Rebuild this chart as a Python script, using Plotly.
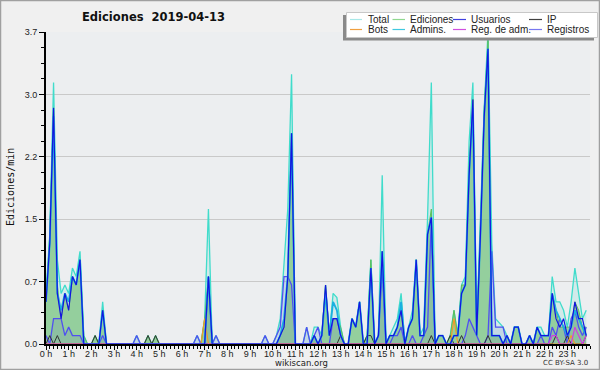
import plotly.graph_objects as go

# ---- data: 10-minute bins, values in edits/min (rows = hours 0..23) ----
total = [
    0.6, 1.3, 3.1, 1.0, 0.6, 0.7,
    0.6, 0.9, 0.8, 1.1, 0.1, 0.0,
    0.0, 0.1, 0.0, 0.5, 0.0, 0.0,
    0, 0, 0, 0, 0, 0,
    0.1, 0, 0, 0.1, 0, 0.1,
    0, 0, 0, 0, 0, 0,
    0, 0, 0, 0, 0.1, 0,
    0.3, 1.6, 0, 0.1, 0, 0,
    0, 0, 0, 0, 0, 0,
    0, 0, 0, 0, 0.1, 0,
    0, 0.1, 0.3, 1.0, 1.6, 3.2,
    0, 0, 0, 0.2, 0, 0.2,
    0.2, 0.1, 0.7, 0.1, 0.6, 0.55,
    0.2, 0, 0, 0.3, 0.2, 0.5,
    0, 0.1, 1.0, 0, 0.1, 2.0,
    0, 0.1, 0.2, 0.3, 0.6, 0,
    0.2, 0.4, 1.0, 0.1, 0.2, 1.5,
    3.1, 0, 0.1, 0.1, 0, 0.1,
    0.4, 0.1, 0.7, 0.8, 2.4, 3.1,
    0.2, 1.4, 2.8, 3.7, 1.2, 0.3,
    0.25, 0.2, 0.1, 0, 0.2, 0.2,
    0, 0, 0.1, 0, 0.2, 0.2,
    0.1, 0.1, 0.8, 0.5, 0.5, 0.4,
    0.2, 0.5, 0.9, 0.6, 0.3, 0.4,
]
ediciones = [
    0.5, 1.3, 2.8, 0.7, 0.3, 0.6,
    0.4, 0.8, 0.7, 1.0, 0.1, 0,
    0, 0.1, 0, 0.4, 0, 0,
    0, 0, 0, 0, 0, 0,
    0, 0, 0, 0.1, 0, 0.1,
    0, 0, 0, 0, 0, 0,
    0, 0, 0, 0, 0, 0,
    0.3, 0.8, 0, 0, 0, 0,
    0, 0, 0, 0, 0, 0,
    0, 0, 0, 0, 0, 0,
    0, 0, 0.1, 0.2, 0.8, 2.5,
    0, 0, 0, 0, 0, 0.1,
    0, 0.1, 0.7, 0.1, 0.3, 0.3,
    0.2, 0, 0, 0.3, 0.2, 0.5,
    0, 0.1, 1.0, 0, 0.1, 1.1,
    0, 0.1, 0.1, 0.2, 0.4, 0,
    0.2, 0.3, 1.0, 0.1, 0.1, 1.3,
    1.6, 0, 0.1, 0.1, 0, 0.1,
    0.4, 0.1, 0.7, 0.7, 2.1, 2.9,
    0.1, 1.4, 2.8, 3.6, 0.1, 0.1,
    0.1, 0, 0.1, 0, 0.2, 0.2,
    0, 0, 0.1, 0, 0.2, 0.1,
    0.1, 0.1, 0.6, 0.4, 0.2, 0.2,
    0.2, 0.2, 0.5, 0.4, 0.2, 0.2,
]
usuarios = [
    0.5, 1.2, 2.8, 0.6, 0.3, 0.6,
    0.4, 0.8, 0.7, 1.0, 0, 0,
    0, 0, 0, 0.4, 0, 0,
    0, 0, 0, 0, 0, 0,
    0, 0, 0, 0, 0, 0,
    0, 0, 0, 0, 0, 0,
    0, 0, 0, 0, 0, 0,
    0, 0.8, 0, 0, 0, 0,
    0, 0, 0, 0, 0, 0,
    0, 0, 0, 0, 0, 0,
    0, 0, 0.1, 0.2, 0.8, 2.5,
    0, 0, 0, 0, 0, 0.1,
    0, 0.1, 0.7, 0.1, 0.3, 0.3,
    0.1, 0, 0, 0.3, 0.2, 0.5,
    0, 0, 0.9, 0, 0.1, 1.1,
    0, 0.1, 0.1, 0.2, 0.4, 0,
    0.2, 0.3, 1.0, 0.1, 0.1, 1.3,
    1.5, 0, 0.1, 0.1, 0, 0,
    0.1, 0.1, 0.6, 0.7, 2.0, 2.9,
    0.1, 1.3, 2.7, 3.5, 0.1, 0.1,
    0.1, 0, 0.1, 0, 0.2, 0.2,
    0, 0, 0.1, 0, 0.2, 0.1,
    0.1, 0.1, 0.6, 0.3, 0.2, 0.3,
    0.1, 0.2, 0.5, 0.3, 0.3, 0.1,
]
ip = [
    0, 0.1, 0, 0.1, 0, 0,
    0, 0, 0, 0, 0, 0,
    0, 0.1, 0, 0, 0, 0,
    0, 0, 0, 0, 0, 0,
    0, 0, 0, 0.1, 0, 0.1,
    0, 0, 0, 0, 0, 0,
    0, 0, 0, 0, 0, 0,
    0, 0, 0, 0, 0, 0,
    0, 0, 0, 0, 0, 0,
    0, 0, 0, 0, 0, 0,
    0, 0, 0, 0, 0, 0,
    0, 0, 0, 0, 0, 0,
    0, 0, 0, 0, 0, 0,
    0.1, 0, 0, 0, 0, 0,
    0, 0.1, 0.1, 0, 0, 0,
    0, 0, 0, 0, 0, 0,
    0, 0, 0, 0, 0, 0,
    0.1, 0, 0, 0, 0, 0.1,
    0, 0, 0.1, 0, 0, 0,
    0, 0, 0, 0.1, 0, 0,
    0, 0, 0, 0, 0, 0,
    0, 0, 0, 0, 0, 0,
    0, 0, 0, 0.1, 0, 0,
    0.1, 0, 0, 0, 0, 0.1,
]
bots = [
    0, 0, 0, 0, 0, 0,
    0, 0, 0, 0, 0, 0,
    0, 0, 0, 0, 0, 0,
    0, 0, 0, 0, 0, 0,
    0, 0, 0, 0, 0, 0,
    0, 0, 0, 0, 0, 0,
    0, 0, 0, 0, 0, 0,
    0.3, 0, 0, 0, 0, 0,
    0, 0, 0, 0, 0, 0,
    0, 0, 0, 0, 0, 0,
    0, 0, 0, 0, 0, 0,
    0, 0, 0, 0, 0, 0,
    0, 0, 0, 0, 0, 0,
    0, 0, 0, 0, 0, 0,
    0, 0, 0, 0, 0, 0,
    0, 0, 0, 0, 0, 0,
    0, 0, 0, 0, 0, 0,
    0, 0, 0, 0, 0, 0,
    0.3, 0, 0, 0, 0, 0,
    0, 0, 0, 0, 0, 0,
    0, 0, 0, 0, 0, 0,
    0, 0, 0, 0, 0, 0,
    0, 0, 0, 0, 0, 0,
    0, 0.1, 0, 0, 0, 0,
]
admins = [
    0.5, 1.2, 2.7, 0.6, 0.4, 0.6,
    0.5, 0.8, 0.7, 1.0, 0, 0,
    0, 0, 0, 0.4, 0, 0,
    0, 0, 0, 0, 0, 0,
    0, 0, 0, 0, 0, 0,
    0, 0, 0, 0, 0, 0,
    0, 0, 0, 0, 0, 0,
    0, 0.8, 0, 0, 0, 0,
    0, 0, 0, 0, 0, 0,
    0, 0, 0, 0, 0, 0,
    0, 0, 0.1, 0.3, 0.8, 2.5,
    0, 0, 0, 0, 0, 0.1,
    0, 0.1, 0.6, 0.1, 0.5, 0.4,
    0.1, 0, 0, 0.3, 0.2, 0.5,
    0, 0, 0.9, 0, 0.1, 1.1,
    0, 0.1, 0.1, 0.2, 0.5, 0,
    0.2, 0.3, 1.0, 0.1, 0.1, 1.3,
    1.5, 0, 0.1, 0.1, 0, 0,
    0.1, 0.1, 0.6, 0.7, 2.0, 2.8,
    0.1, 1.3, 2.7, 3.5, 0.1, 0.1,
    0.1, 0, 0.1, 0, 0.2, 0.2,
    0, 0, 0.1, 0, 0.2, 0.1,
    0.1, 0.1, 0.6, 0.4, 0.3, 0.2,
    0.1, 0.2, 0.4, 0.3, 0.2, 0.1,
]
reg_adm = [
    0, 0, 0, 0, 0, 0,
    0, 0, 0, 0, 0, 0,
    0, 0, 0, 0, 0, 0,
    0, 0, 0, 0, 0, 0,
    0, 0, 0, 0, 0, 0,
    0, 0, 0, 0, 0, 0,
    0, 0, 0, 0, 0, 0,
    0, 0, 0, 0, 0, 0,
    0, 0, 0, 0, 0, 0,
    0, 0, 0, 0, 0, 0,
    0, 0, 0, 0, 0, 0,
    0, 0, 0, 0, 0, 0,
    0, 0, 0, 0, 0, 0,
    0, 0, 0, 0, 0, 0,
    0, 0, 0, 0, 0, 0,
    0, 0, 0, 0, 0, 0,
    0, 0, 0, 0, 0, 0,
    0, 0, 0, 0, 0, 0,
    0, 0, 0, 0, 0, 0,
    0, 0, 0, 0, 0, 0,
    0, 0, 0, 0, 0, 0,
    0, 0, 0, 0, 0, 0,
    0, 0, 0.1, 0.1, 0, 0,
    0, 0, 0.2, 0.1, 0, 0.1,
]
registros = [
    0.1, 0, 0.3, 0.3, 0.3, 0.1,
    0.2, 0.1, 0.1, 0.1, 0, 0,
    0, 0, 0, 0.1, 0, 0,
    0, 0, 0, 0, 0, 0,
    0.1, 0, 0, 0, 0, 0,
    0, 0, 0, 0, 0, 0,
    0, 0, 0, 0, 0.1, 0,
    0, 0.8, 0, 0.1, 0, 0,
    0, 0, 0, 0, 0, 0,
    0, 0, 0, 0, 0.1, 0,
    0, 0.1, 0.2, 0.8, 0.8, 0.7,
    0, 0, 0, 0.2, 0, 0.1,
    0.2, 0, 0, 0, 0.3, 0.3,
    0.1, 0, 0, 0, 0, 0,
    0, 0, 0, 0, 0.1, 0.9,
    0, 0, 0.1, 0.1, 0.2, 0,
    0, 0.1, 0, 0, 0.1, 0.2,
    1.5, 0, 0, 0, 0, 0,
    0, 0, 0, 0.1, 0.3, 0.2,
    0.1, 0, 0, 0.1, 1.1, 0.2,
    0.2, 0.2, 0, 0, 0, 0,
    0, 0, 0, 0, 0, 0.1,
    0, 0, 0.2, 0.1, 0.3, 0.2,
    0, 0.3, 0.4, 0.2, 0.1, 0.2,
]

minutes = [i * 10 for i in range(len(total))]
hour_ticks = [h * 60 for h in range(24)]
hour_labels = [f"{h} h" for h in range(24)]
y_ticks = [0, 0.74, 1.48, 2.22, 2.96, 3.7]
y_labels = ["0.0", "0.7", "1.5", "2.2", "3.0", "3.7"]

legend_names = ["Total", "Ediciones", "Usuarios", "IP", "Bots", "Admins.", "Reg. de adm.", "Registros"]
legend_colors = ["#a8e8e8", "#90d890", "#4040e0", "#404040", "#f0a040", "#40c8e0", "#d050e0", "#7878f0"]

# ---- layout geometry (pixels) ----
W, H = 600, 370
L, R, T, B = 46, 10, 32, 26
PW, PH = W - L - R, H - T - B


def px(x):
    return (x - L) / PW


def py(y):
    return (H - B - y) / PH


fig = go.Figure()


def add(y, color, width=1.0, fill=None, fillcolor=None):
    fig.add_trace(go.Scatter(
        x=minutes, y=y, mode="lines",
        line=dict(color=color, width=width, shape="linear"),
        fill=fill, fillcolor=fillcolor, showlegend=False, hoverinfo="skip"))


add(total, "#40dccb", 1.3, "tozeroy", "rgba(120,225,215,0.22)")
add(ediciones, "#5cbf5c", 1.0, "tozeroy", "rgba(110,190,110,0.62)")
add(registros, "#5050f0", 1.3, "tozeroy", "rgba(90,90,200,0.12)")
add(ip, "#333333", 1.0)
add(bots, "#f09a28", 1.2)
add(admins, "#1ab0e0", 1.8)
add(reg_adm, "#d040e0", 1.2)
add(usuarios, "#1414e0", 1.2)

shapes = []
annotations = []

# outer frame
shapes.append(dict(type="rect", xref="paper", yref="paper",
                   x0=px(0.5), x1=px(599.5), y0=py(369.5), y1=py(0.5),
                   line=dict(color="#a0a0a0", width=1.5), layer="below"))

# legend box with shadow
shapes.append(dict(type="rect", xref="paper", yref="paper",
                   x0=px(343), x1=px(594), y0=py(40.5), y1=py(15),
                   line=dict(width=0), fillcolor="#8a8a8a", layer="above"))
shapes.append(dict(type="rect", xref="paper", yref="paper",
                   x0=px(346.5), x1=px(597.5), y0=py(37.5), y1=py(12.5),
                   line=dict(color="#c8c8c8", width=1), fillcolor="#ffffff", layer="above"))

col_line = [(350, 362), (392.5, 405), (453, 466), (529, 542)]
col_text = [366, 408, 469, 545]
rows_y = [19.5, 29.5]
for k, (name, col) in enumerate(zip(legend_names, legend_colors)):
    r, c = divmod(k, 4)
    yy = rows_y[r]
    shapes.append(dict(type="line", xref="paper", yref="paper",
                       x0=px(col_line[c][0]), x1=px(col_line[c][1]), y0=py(yy), y1=py(yy),
                       line=dict(color=col, width=1.2), layer="above"))
    annotations.append(dict(text=name, xref="paper", yref="paper",
                            x=px(col_text[c]), y=py(yy), xanchor="left", yanchor="middle",
                            showarrow=False,
                            font=dict(family="Liberation Sans", size=10, color="#222")))

annotations.append(dict(text="<b>Ediciones  2019-04-13</b>", xref="paper", yref="paper",
                        x=px(153), y=py(17), xanchor="center", yanchor="middle", showarrow=False,
                        font=dict(family="DejaVu Sans", size=11.5, color="#111")))
annotations.append(dict(text="Ediciones/min", xref="paper", yref="paper", textangle=-90,
                        x=px(10), y=py(187), xanchor="center", yanchor="middle", showarrow=False,
                        font=dict(family="DejaVu Sans Mono", size=10, color="#111")))
annotations.append(dict(text="wikiscan.org", xref="paper", yref="paper",
                        x=px(301), y=py(362.5), xanchor="center", yanchor="middle", showarrow=False,
                        font=dict(family="DejaVu Sans", size=8.5, color="#222")))
annotations.append(dict(text="CC BY-SA 3.0", xref="paper", yref="paper",
                        x=px(590), y=py(363), xanchor="right", yanchor="middle", showarrow=False,
                        font=dict(family="DejaVu Sans", size=7, color="#333")))

fig.update_layout(
    width=W, height=H, margin=dict(l=L, r=R, t=T, b=B, pad=0),
    paper_bgcolor="#f0f0f0", plot_bgcolor="#eceef0",
    shapes=shapes, annotations=annotations, showlegend=False,
    xaxis=dict(range=[0, 1440], tickmode="array", tickvals=hour_ticks, ticktext=hour_labels,
               tickangle=0, ticklabelstandoff=-4,
               showgrid=False, zeroline=False, showline=True, linecolor="#000", linewidth=2,
               ticks="outside", ticklen=4, tickwidth=1, tickcolor="#000",
               tickfont=dict(family="Liberation Sans", size=9, color="#222"),
               minor=dict(tickmode="linear", tick0=0, dtick=10, ticks="outside", ticklen=3,
                          tickwidth=1, tickcolor="#000", showgrid=False),
               fixedrange=True),
    yaxis=dict(range=[0, 3.7], tickmode="array", tickvals=y_ticks, ticktext=y_labels,
               showgrid=True, gridcolor="#c9c9c9", gridwidth=1, zeroline=False,
               showline=True, linecolor="#000", linewidth=2,
               ticks="outside", ticklen=5, tickwidth=1, tickcolor="#000",
               tickfont=dict(family="Liberation Sans", size=9, color="#222"),
               minor=dict(tickmode="linear", tick0=0, dtick=0.185, ticks="outside", ticklen=3,
                          tickwidth=1, tickcolor="#000", showgrid=False),
               fixedrange=True),
)

fig.write_html("out.html")
